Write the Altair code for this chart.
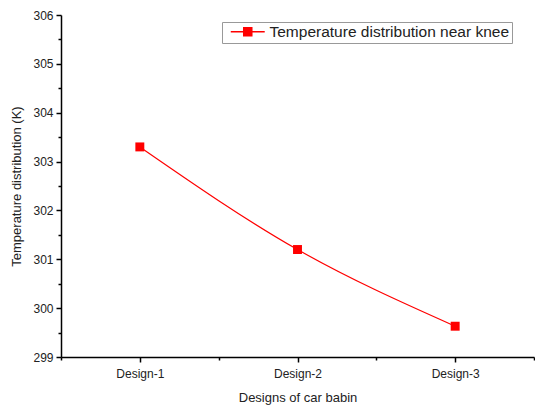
import json
import altair as alt
import pandas as pd

designs = ["Design-1", "Design-2", "Design-3"]
positions = [1, 2, 3]
temperatures = [303.3, 301.2, 299.63]
series_name = "Temperature distribution near knee"

y_major = [299, 300, 301, 302, 303, 304, 305, 306]
y_minor = [299.5, 300.5, 301.5, 302.5, 303.5, 304.5, 305.5]
x_minor = [0.5, 1.5, 2.5, 3.5]

df = pd.DataFrame({
    "pos": positions,
    "design": designs,
    "temp": temperatures,
    "series": [series_name] * len(designs),
})

label_expr = json.dumps(designs) + "[datum.value - 1]"
FONT = "Liberation Sans"

xscale = alt.Scale(domain=[0.5, 3.5], nice=False, zero=False)
yscale = alt.Scale(domain=[299, 306], nice=False, zero=False)

x_major_axis = alt.Axis(
    values=positions, labelExpr=label_expr, title="Designs of car babin",
    orient="bottom", grid=False, tickSize=5, tickWidth=1.5, tickColor="black",
    domainColor="black", domainWidth=1.5, labelFont=FONT, labelFontSize=12,
    labelColor="#222", labelPadding=6, titleFont=FONT, titleFontSize=13,
    titleFontWeight="normal", titleColor="#222", titlePadding=12,
)
y_major_axis = alt.Axis(
    values=y_major, title="Temperature distribution (K)", orient="left",
    grid=False, tickSize=5, tickWidth=1.5, tickColor="black",
    domainColor="black", domainWidth=1.5, labelFont=FONT, labelFontSize=12,
    labelColor="#222", labelPadding=3, titleFont=FONT, titleFontSize=13,
    titleFontWeight="normal", titleColor="#222", titlePadding=9,
    format="d",
)
x_minor_axis = alt.Axis(
    values=x_minor, orient="bottom", labels=False, title=None, grid=False,
    domain=False, tickSize=3, tickWidth=1.5, tickColor="black",
)
y_minor_axis = alt.Axis(
    values=y_minor, orient="left", labels=False, title=None, grid=False,
    domain=False, tickSize=3, tickWidth=1.5, tickColor="black",
)

base = alt.Chart(df)

line = base.mark_line(color="red", strokeWidth=1.2, interpolate="monotone").encode(
    x=alt.X("pos:Q", scale=xscale, axis=x_major_axis),
    y=alt.Y("temp:Q", scale=yscale, axis=y_major_axis),
)

# symbol drawn at scale sqrt(size)/2 = 6 px per unit
legend_path = "M-2.83,0H-0.67M0.67,0H2.83M-0.67,-0.67H0.67V0.67H-0.67Z"

points = base.mark_point(shape="square", filled=True, size=80, opacity=1).encode(
    x=alt.X("pos:Q", scale=xscale, axis=x_minor_axis),
    y=alt.Y("temp:Q", scale=yscale, axis=y_minor_axis),
    color=alt.Color(
        "series:N",
        scale=alt.Scale(range=["red"]),
        legend=alt.Legend(
            title=None, orient="none", legendX=161, legendY=7,
            symbolType=legend_path, symbolSize=144, symbolStrokeWidth=1.5,
            symbolStrokeColor="red", symbolFillColor="red", symbolOpacity=1,
            symbolOffset=16,
            labelFont=FONT, labelFontSize=15.5, labelColor="#222",
            labelOffset=14, labelLimit=0, strokeColor="#999",
            padding=2, fillColor="white",
        ),
    ),
)

chart = alt.layer(line, points).resolve_axis(
    x="independent", y="independent"
).properties(
    width=473, height=342,
    autosize=alt.AutoSizeParams(type="none"),
    padding={"left": 61, "top": 15, "right": 1, "bottom": 54},
).configure_view(stroke=None)

chart.save("out.html", embed_options={"renderer": "svg", "actions": False})
